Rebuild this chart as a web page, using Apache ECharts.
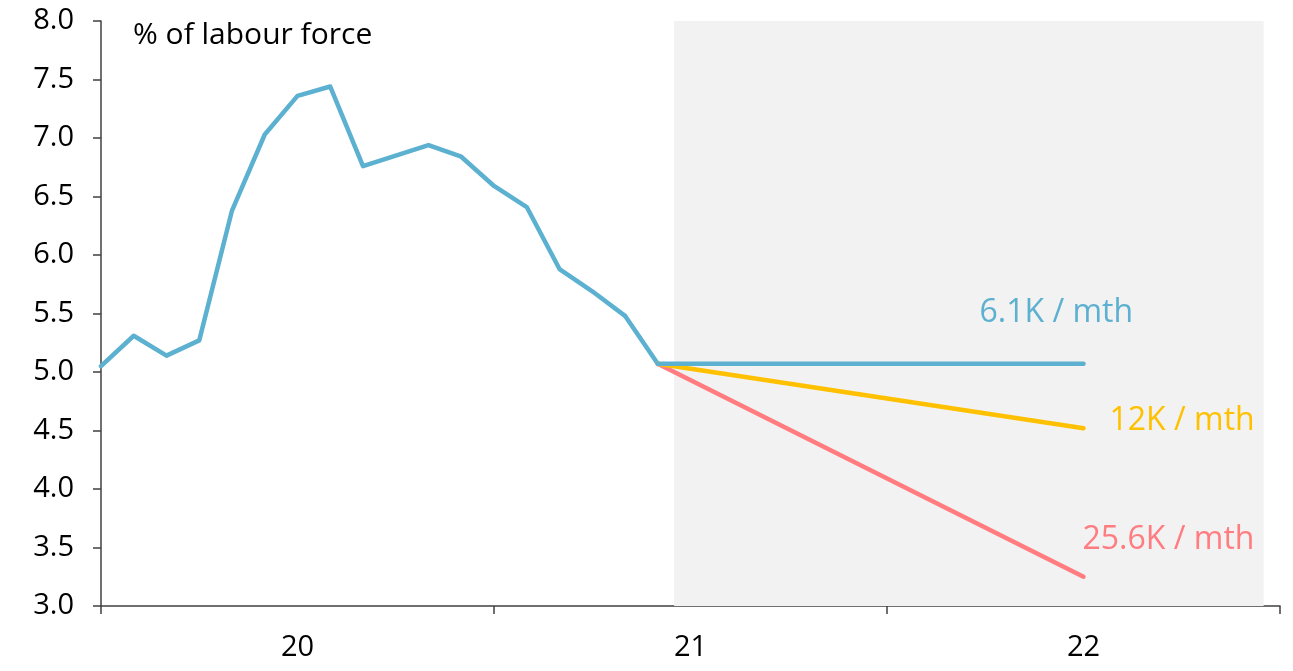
<!DOCTYPE html>
<html><head><meta charset="utf-8">
<script src="https://cdn.jsdelivr.net/npm/echarts@6/dist/echarts.min.js"></script>
<style>html,body{margin:0;padding:0;background:#fff}#c{width:1293px;height:671px}</style>
</head><body><div id="c"></div>
<script>
// month index (0 = first month shown), unemployment rate %
const historyMonths = [0,1,2,3,4,5,6,7,8,9,10,11,12,13,14,15,16,17];
const historyRate   = [5.05,5.31,5.14,5.27,6.38,7.03,7.36,7.44,6.76,6.85,6.94,6.84,6.59,6.41,5.88,5.69,5.48,5.07];
const projMonths    = [17, 30];
const projLow       = [5.07, 5.07];   // 6.1K / mth
const projMid       = [5.07, 4.52];   // 12K / mth
const projHigh      = [5.07, 3.25];   // 25.6K / mth
const yearLabels    = ['20','21','22'];
const forecastSpan  = [17.5, 35.5];
const yTicks        = {min:3, max:8, step:0.5};

const FONT = '"Open Sans", "Noto Sans", sans-serif';
const BLUE = '#5cb0d0', YEL = '#ffc000', RED = '#ff7c80';
const pairs = (xs, ys) => xs.map((x,i)=>[x, ys[i]]);
const endLbl = (text, color, offset) => ({show:true, formatter:text, color, fontSize:32, fontFamily:FONT, offset, align:'left', verticalAlign:'middle'});

const chart = echarts.init(document.getElementById('c'), null, {renderer:'canvas'});
chart.setOption({
  animation:false,
  grid:{left:101, right:13, top:21, bottom:65},
  title:{text:'% of labour force', left:128, top:15, textStyle:{fontFamily:FONT, fontSize:30, fontWeight:'normal', color:'#000'}},
  xAxis:[
    {type:'value', min:0, max:36, interval:12, show:false},
    {type:'category', data:yearLabels, position:'bottom', boundaryGap:true,
     axisLine:{lineStyle:{color:'#404040', width:1.5}},
     axisTick:{show:true, length:8, lineStyle:{color:'#404040', width:1.5}},
     axisLabel:{fontFamily:FONT, fontSize:29, color:'#000', margin:27},
     splitLine:{show:false}}
  ],
  yAxis:{type:'value', min:yTicks.min, max:yTicks.max, interval:yTicks.step,
    axisLine:{show:true, lineStyle:{color:'#404040', width:1.5}},
    axisTick:{show:true, length:8, lineStyle:{color:'#404040', width:1.5}},
    axisLabel:{fontFamily:FONT, fontSize:29, color:'#000', margin:27, formatter:v=>v.toFixed(1)},
    splitLine:{show:false}},
  series:[
    {type:'line', xAxisIndex:0, data:pairs(historyMonths, historyRate), symbol:'none', z:5,
     lineStyle:{color:BLUE, width:4.5, cap:'round', join:'round'},
     markArea:{silent:true, itemStyle:{color:'#f2f2f2'}, data:[[{xAxis:forecastSpan[0]},{xAxis:forecastSpan[1]}]]}},
    {type:'line', xAxisIndex:0, data:pairs(projMonths, projHigh), symbol:'none', z:4,
     lineStyle:{color:RED, width:4.5, cap:'round'}, endLabel:endLbl('25.6K / mth', RED, [-9,-37])},
    {type:'line', xAxisIndex:0, data:pairs(projMonths, projMid), symbol:'none', z:6,
     lineStyle:{color:YEL, width:4.5, cap:'round'}, endLabel:endLbl('12K / mth', YEL, [18,-7])},
    {type:'line', xAxisIndex:0, data:pairs(projMonths, projLow), symbol:'none', z:7,
     lineStyle:{color:BLUE, width:4.5, cap:'round'}, endLabel:endLbl('6.1K / mth', BLUE, [-112,-51])}
  ]
});
</script></body></html>
